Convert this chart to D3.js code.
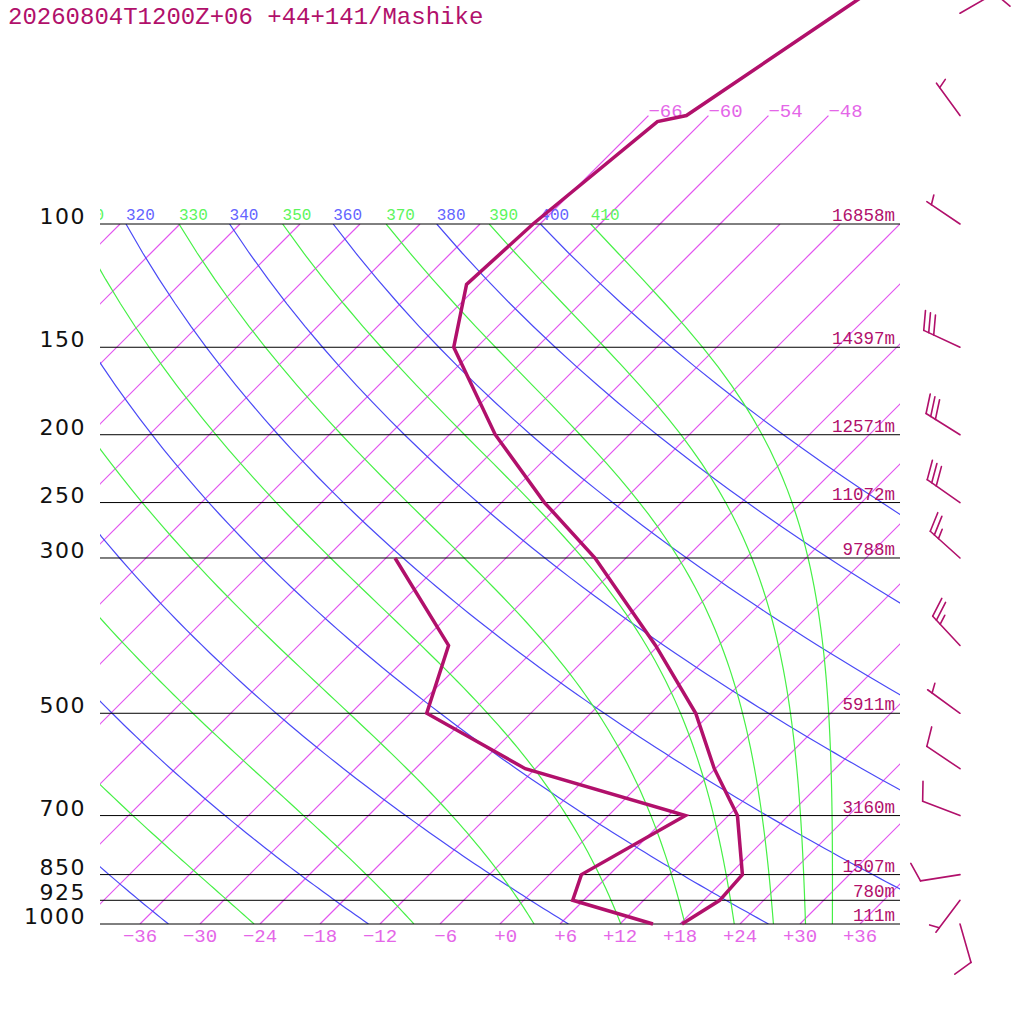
<!DOCTYPE html>
<html>
<head>
<meta charset="utf-8">
<script src="https://cdn.jsdelivr.net/npm/d3@7"></script>
<style>
  body { margin: 0; background: #fff; }
  svg { display: block; }
</style>
</head>
<body>
<svg id="chart" width="1024" height="1024"></svg>
<script>
// ---- data ----
const title = "20260804T1200Z+06 +44+141/Mashike";

const levels  = [1000, 925, 850, 700, 500, 300, 250, 200, 150, 100];
const heights = ["111m", "780m", "1507m", "3160m", "5911m", "9788m", "11072m", "12571m", "14397m", "16858m"];

const tempP = [1000, 925, 850, 700, 600, 500, 400, 300, 250, 200, 150, 122, 100, 71.4, 70, 50, 30];
const tempC = [18.2, 19.6, 19.3, 12.9, 5.9, -1.5, -12.3, -27.1, -37.7, -49.4, -62.3, -67.3, -66.7, -64.5, -62.2, -57.3, -49.9];

const dewP = [1000, 925, 850, 700, 600, 500, 400, 300];
const dewC = [15.3, 4.9, 3.2, 7.7, -13.0, -28.4, -33.0, -47.1];

const windP   = [1000, 925, 850, 700, 600, 500, 400, 300, 250, 200, 150, 100, 70, 50];
const windDir = [164, 217, 261, 291, 304, 306, 317, 312, 305, 302, 295, 304, 324, 60];
const windKt  = [10, 5, 10, 10, 10, 5, 25, 25, 30, 30, 30, 5, 5, 10];

const isoTicks   = d3.range(-36, 37, 6);      // labels under the chart
const isoAll     = d3.range(-114, 43, 6);     // every isotherm drawn
const isoTop     = [-66, -60, -54, -48];      // isotherms carried up to 70 hPa
const dryTheta   = d3.range(200, 401, 20);    // blue
const moistTheta = d3.range(230, 411, 20);    // green

// ---- colours ----
const cProfile = "#b1106b";
const cIso = "#e254ef", cIsoText = "#e466e8";
const cDry = "#4a4af6", cDryText = "#6464ff";
const cMoist = "#46f046", cMoistText = "#5cf55c";

// ---- scales ----
const y = d3.scaleLog().domain([1000, 100]).range([924, 224]);
const x = d3.scaleLinear().domain([-40, 40]).range([100, 900]);
const skx = (t, p) => x(t) + (y(1000) - y(p));   // 45 degree skew

const svg = d3.select("#chart");

const defs = svg.append("defs");
defs.append("clipPath").attr("id", "box")
  .append("rect").attr("x", 100).attr("y", y(100)).attr("width", 800).attr("height", y(1000) - y(100));
defs.append("clipPath").attr("id", "cols")
  .append("rect").attr("x", 100).attr("y", 0).attr("width", 800).attr("height", 1024);

const line = d3.line().x(d => d[0]).y(d => d[1]);

// thermodynamics for the background curves
function es(tc) { return 6.112 * Math.exp(17.67 * tc / (tc + 243.5)); }
function thetaE(tk, p) {
  const e = es(tk - 273.15);
  if (e > 0.5 * p) return 1e9;
  const r = 622 * e / (p - e);
  return tk * Math.pow(1000 / p, 0.2854 * (1 - 0.00028 * r)) *
         Math.exp((3.376 / tk - 0.00254) * r * (1 + 0.00081 * r));
}
function moistT(th, p) {
  let lo = 150, hi = 340;
  for (let i = 0; i < 50; i++) {
    const m = (lo + hi) / 2;
    if (thetaE(m, p) > th) hi = m; else lo = m;
  }
  return (lo + hi) / 2 - 273.15;
}
function dryT(th, p) { return th * Math.pow(p / 1000, 0.2857) - 273.15; }

const pp = d3.range(1000, 99, -10);

const grid = svg.append("g").attr("clip-path", "url(#box)").attr("fill", "none");

// isotherms
const isoG = grid.append("g").attr("stroke", cIso).attr("stroke-width", 1.2);
isoAll.forEach(t => {
  isoG.append("path")
    .attr("d", line([[skx(t, 1000), y(1000)], [skx(t, 100), y(100)]]));
});

// dry adiabats
dryTheta.forEach(th => {
  grid.append("path")
    .attr("d", line(pp.map(p => [skx(dryT(th, p), p), y(p)])))
    .attr("stroke", cDry).attr("stroke-width", 1.2);
});

// moist adiabats
moistTheta.forEach(th => {
  grid.append("path")
    .attr("d", line(pp.map(p => [skx(moistT(th, p), p), y(p)])))
    .attr("stroke", cMoist).attr("stroke-width", 1.2);
});

// isotherms above 100 hPa
isoTop.forEach(t => {
  svg.append("path")
    .attr("d", line([[skx(t, 100), y(100)], [skx(t, 70), y(70)]]))
    .attr("fill", "none").attr("stroke", cIso).attr("stroke-width", 1.2);
  svg.append("text")
    .attr("x", skx(t, 70)).attr("y", y(70) + 1)
    .attr("font-family", "Liberation Mono").attr("font-size", 19)
    .attr("fill", cIsoText)
    .text("\u2212" + Math.abs(t));
});

// theta labels at 100 hPa (only those that reach into the frame)
const labels = svg.append("g").attr("clip-path", "url(#cols)");
const thetaLabels = [];
dryTheta.forEach(th => thetaLabels.push({ th, xp: skx(dryT(th, 100), 100), c: cDryText }));
moistTheta.forEach(th => thetaLabels.push({ th, xp: skx(moistT(th, 100), 100), c: cMoistText }));
thetaLabels.filter(d => d.xp > 70 && d.xp < 880).forEach(d => {
  labels.append("text")
    .attr("x", d.xp).attr("y", y(100) - 4)
    .attr("font-family", "Liberation Mono").attr("font-size", 16)
    .attr("fill", d.c)
    .text(d.th);
});

// pressure lines, pressure labels, heights
levels.forEach((p, i) => {
  svg.append("line")
    .attr("x1", 100).attr("x2", 900).attr("y1", y(p)).attr("y2", y(p))
    .attr("stroke", "#000").attr("stroke-width", 1);
  svg.append("text")
    .attr("x", 86).attr("y", y(p))
    .attr("text-anchor", "end")
    .attr("font-family", "DejaVu Sans").attr("font-size", 22)
    .attr("letter-spacing", 1.5)
    .attr("fill", "#111")
    .text(p);
  svg.append("text")
    .attr("x", 895).attr("y", y(p) - 3)
    .attr("text-anchor", "end")
    .attr("font-family", "Liberation Mono").attr("font-size", 17.5)
    .attr("fill", cProfile)
    .text(heights[i]);
});

// temperature labels along the bottom
const cw = 19 * 0.6;
isoTicks.forEach(t => {
  const s = (t < 0 ? "\u2212" : "+") + Math.abs(t);
  const left = x(t) - 1.5 * cw + (s.length === 2 ? cw : 0);
  svg.append("text")
    .attr("x", left).attr("y", y(1000) + 18)
    .attr("font-family", "Liberation Mono").attr("font-size", 19)
    .attr("fill", cIsoText)
    .text(s);
});

// profiles
svg.append("path")
  .attr("d", line(tempP.map((p, i) => [skx(tempC[i], p), y(p)])))
  .attr("fill", "none").attr("stroke", cProfile).attr("stroke-width", 3.5);
svg.append("path")
  .attr("d", line(dewP.map((p, i) => [skx(dewC[i], p), y(p)])))
  .attr("fill", "none").attr("stroke", cProfile).attr("stroke-width", 3.5);

// wind barbs
const barbs = svg.append("g").attr("stroke", cProfile).attr("stroke-width", 1.6)
  .attr("stroke-linecap", "round");
const staffLen = 40, gap = 5.5, fullLen = 20, halfLen = 10;
windP.forEach((p, i) => {
  const ax = 960, ay = y(p);
  const d = windDir[i] * Math.PI / 180;
  const ux = Math.sin(d), uy = -Math.cos(d);
  barbs.append("line")
    .attr("x1", ax).attr("y1", ay)
    .attr("x2", ax + staffLen * ux).attr("y2", ay + staffLen * uy);
  const a = Math.atan2(uy, ux) + 70 * Math.PI / 180;
  const fx = Math.cos(a), fy = Math.sin(a);
  const full = Math.floor(windKt[i] / 10);
  const half = (windKt[i] % 10) >= 5;
  let k = 0;
  for (let j = 0; j < full; j++, k++) {
    const dist = staffLen - k * gap;
    const bx = ax + dist * ux, by = ay + dist * uy;
    barbs.append("line").attr("x1", bx).attr("y1", by)
      .attr("x2", bx + fullLen * fx).attr("y2", by + fullLen * fy);
  }
  if (half) {
    if (full === 0) k = 1;
    const dist = staffLen - k * gap;
    const bx = ax + dist * ux, by = ay + dist * uy;
    barbs.append("line").attr("x1", bx).attr("y1", by)
      .attr("x2", bx + halfLen * fx).attr("y2", by + halfLen * fy);
  }
});

// title
svg.append("text")
  .attr("x", 8).attr("y", 24)
  .attr("font-family", "Liberation Mono").attr("font-size", 24)
  .attr("fill", cProfile)
  .text(title);
</script>
</body>
</html>
